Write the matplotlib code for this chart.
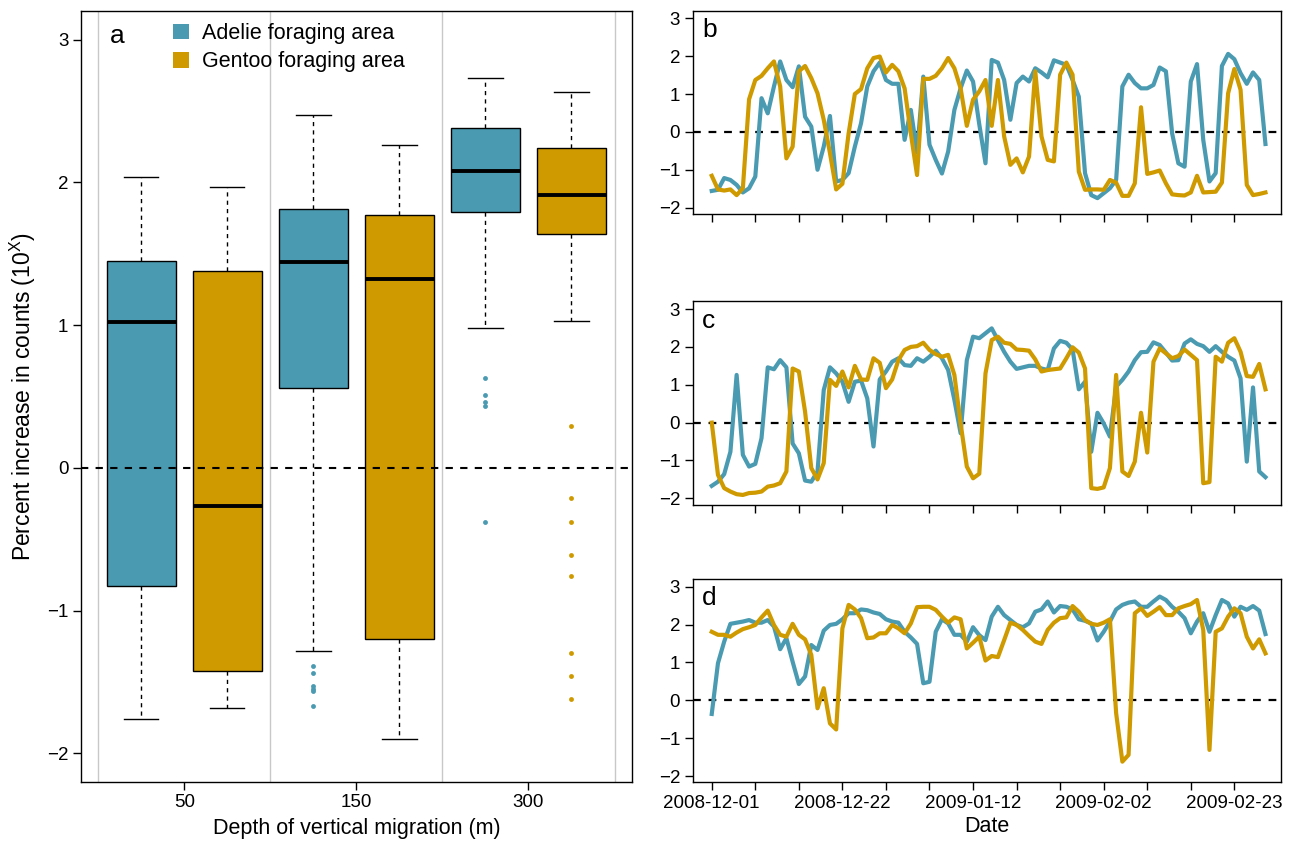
import numpy as np
import pandas as pd
import matplotlib
matplotlib.use('Agg')
import matplotlib.pyplot as plt
import matplotlib.dates as mdates
from matplotlib.patches import Patch

plt.rcParams['font.family'] = ['Liberation Sans', 'DejaVu Sans']

BLUE = '#4A9BB1'
GOLD = '#CF9A00'

# ---------------- panel a: boxplot summary ----------------
depths = ['50', '150', '300']
adelie_q1 = [-0.83, 0.56, 1.79]
adelie_med = [1.02, 1.44, 2.08]
adelie_q3 = [1.45, 1.81, 2.38]
adelie_lo = [-1.76, -1.28, 0.98]
adelie_hi = [2.04, 2.47, 2.73]
adelie_out = [[], [-1.39, -1.44, -1.53, -1.55, -1.56, -1.67], [0.63, 0.51, 0.46, 0.43, -0.38]]

gentoo_q1 = [-1.42, -1.20, 1.64]
gentoo_med = [-0.27, 1.32, 1.91]
gentoo_q3 = [1.38, 1.77, 2.24]
gentoo_lo = [-1.68, -1.90, 1.03]
gentoo_hi = [1.97, 2.26, 2.63]
gentoo_out = [[], [], [0.29, -0.21, -0.38, -0.61, -0.76, -1.30, -1.46, -1.62]]

# ---------------- panels b-d: daily series ----------------
start_date = '2008-12-01'
n_days = 90

b_adelie = [-1.56, -1.53, -1.22, -1.27, -1.4, -1.6, -1.49, -1.18, 0.89, 0.49,
            1.2, 1.86, 1.37, 1.18, 1.73, 0.4, 0.14, -1.0, -0.39, 0.42,
            -1.31, -1.27, -1.09, -0.39, 0.23, 1.2, 1.6, 1.83, 1.37, 1.27,
            1.27, -0.21, 0.58, -0.55, 1.46, -0.34, -0.74, -1.1, -0.52, 0.58,
            1.15, 1.62, 1.33, 0.2, -0.83, 1.9, 1.83, 1.37, 0.32, 1.29,
            1.46, 1.33, 1.68, 1.57, 1.44, 1.89, 1.83, 1.77, 1.37, 0.93,
            -1.09, -1.67, -1.75, -1.62, -1.49, -1.27, 1.2, 1.51, 1.29, 1.15,
            1.15, 1.24, 1.7, 1.6, -0.04, -0.83, -0.92, 1.33, 1.79, -0.21,
            -1.31, -1.09, 1.74, 2.06, 1.92, 1.55, 1.27, 1.57, 1.37, -0.32]
b_gentoo = [-1.16, -1.52, -1.55, -1.52, -1.67, -1.49, 0.86, 1.37, 1.48, 1.68,
            1.86, 1.2, -0.7, -0.39, 1.6, 1.74, 1.42, 1.02, 0.32, -0.56,
            -1.52, -1.37, -0.04, 1.0, 1.13, 1.68, 1.95, 1.99, 1.57, 1.77,
            1.6, 1.15, -0.04, -1.14, 1.4, 1.4, 1.48, 1.68, 1.95, 1.68,
            1.15, 0.16, 0.85, 1.07, 1.37, 0.16, 1.37, -0.12, -0.87, -0.7,
            -1.07, -0.65, 1.6, -0.12, -0.74, -0.78, 1.51, 1.83, 1.51, -1.05,
            -1.53, -1.52, -1.52, -1.53, -1.27, -1.34, -1.69, -1.69, -1.36, 0.65,
            -1.11, -1.07, -1.02, -1.36, -1.65, -1.67, -1.68, -1.6, -1.16, -1.6,
            -1.59, -1.58, -1.34, 1.02, 1.66, 1.11, -1.4, -1.67, -1.64, -1.6]

c_adelie = [-1.67, -1.56, -1.36, -0.77, 1.26, -0.85, -1.16, -1.09, -0.41, 1.46,
            1.41, 1.65, 1.46, -0.55, -0.81, -1.53, -1.56, -1.29, 0.86, 1.46,
            1.3, 1.08, 0.55, 1.08, 1.11, 0.64, -0.63, 1.14, 1.35, 1.61,
            1.7, 1.52, 1.5, 1.7, 1.61, 1.74, 1.9, 1.7, 1.39, 0.6,
            -0.28, 1.65, 2.27, 2.23, 2.36, 2.49, 2.18, 1.87, 1.61, 1.42,
            1.46, 1.5, 1.5, 1.43, 1.39, 1.96, 2.16, 2.11, 1.93, 0.88,
            1.08, -0.77, 0.26, -0.02, -0.37, 0.95, 1.13, 1.35, 1.65, 1.86,
            1.87, 2.12, 2.05, 1.85, 1.64, 1.65, 2.09, 2.2, 2.08, 2.02,
            1.87, 2.02, 1.87, 1.74, 1.64, 1.17, -1.03, 0.93, -1.29, -1.44]
c_gentoo = [0.0, -1.38, -1.73, -1.82, -1.89, -1.91, -1.86, -1.85, -1.82, -1.69,
            -1.66, -1.6, -1.29, 1.43, 1.35, 0.29, -1.2, -1.5, -1.07, 1.13,
            0.97, 1.35, 0.93, 1.5, 1.14, 1.13, 1.7, 1.58, 0.91, 1.14,
            1.65, 1.92, 2.0, 2.02, 2.11, 1.92, 1.81, 1.74, 1.79, 1.26,
            -0.02, -1.16, -1.47, -1.35, 1.3, 2.18, 2.27, 2.11, 2.08, 1.93,
            1.92, 1.9, 1.67, 1.35, 1.39, 1.41, 1.43, 1.7, 1.99, 1.85,
            1.43, -1.73, -1.75, -1.71, -1.2, 1.26, -1.29, -1.41, -1.03, 0.26,
            -0.79, 1.61, 1.96, 1.83, 1.7, 1.76, 1.93, 1.79, 1.65, -1.6,
            -1.57, 1.74, 1.61, 2.11, 2.23, 1.87, 1.23, 1.21, 1.55, 0.88]

d_adelie = [-0.36, 0.98, 1.55, 2.02, 2.05, 2.08, 2.12, 2.05, 2.05, 2.12,
            1.95, 1.35, 1.64, 1.02, 0.43, 0.63, 1.46, 1.33, 1.84, 1.99,
            2.02, 2.14, 2.3, 2.3, 2.4, 2.38, 2.32, 2.28, 2.14, 2.08,
            2.05, 1.81, 1.66, 1.49, 0.45, 0.49, 1.81, 2.14, 2.03, 1.73,
            1.73, 1.55, 1.93, 1.72, 1.59, 2.21, 2.47, 2.25, 2.12, 1.99,
            1.93, 2.03, 2.34, 2.4, 2.61, 2.32, 2.49, 2.47, 2.4, 2.14,
            2.1, 2.03, 1.58, 1.81, 2.08, 2.4, 2.52, 2.58, 2.61, 2.47,
            2.47, 2.61, 2.74, 2.65, 2.47, 2.34, 2.17, 1.77, 2.08, 2.3,
            1.81, 2.25, 2.65, 2.56, 2.21, 2.47, 2.39, 2.49, 2.37, 1.75]
d_gentoo = [1.81, 1.73, 1.73, 1.68, 1.79, 1.88, 1.93, 1.99, 2.19, 2.37,
            1.99, 1.73, 1.68, 2.02, 1.73, 1.61, 1.2, -0.21, 0.32, -0.61,
            -0.77, 1.9, 2.52, 2.4, 2.17, 1.64, 1.66, 1.77, 1.77, 1.99,
            1.9, 1.77, 2.03, 2.46, 2.47, 2.47, 2.39, 2.21, 2.05, 2.19,
            2.14, 1.37, 1.52, 1.68, 1.05, 1.17, 1.14, 1.59, 2.05, 1.99,
            1.86, 1.7, 1.55, 1.49, 1.86, 2.05, 2.17, 2.19, 2.49, 2.34,
            2.12, 2.02, 1.99, 2.05, 2.14, -0.34, -1.62, -1.44, 2.3, 2.43,
            2.23, 2.34, 2.46, 2.25, 2.25, 2.43, 2.49, 2.54, 2.65, 1.86,
            -1.31, 1.81, 1.9, 2.21, 2.43, 2.3, 1.68, 1.37, 1.61, 1.24]

date_tick_labels = ['2008-12-01', '2008-12-22', '2009-01-12', '2009-02-02', '2009-02-23']

# ---------------- figure ----------------
fig = plt.figure(figsize=(12.89, 8.44), dpi=100)
TICK_FS = 13.5
LABEL_FS = 15.5

def style_axis(ax):
    for s in ax.spines.values():
        s.set_linewidth(1.0)
        s.set_color('black')
    ax.tick_params(direction='out', length=5.5, width=1.0, labelsize=TICK_FS, colors='black')

# panel a
axa = fig.add_axes([0.0628, 0.0735, 0.4273, 0.9135])
for xv in [-0.5, 0.5, 1.5, 2.5]:
    axa.axvline(xv, color='#c8c8c8', lw=1.0, zorder=0)

def make_stats(q1, med, q3, lo, hi, out):
    return [dict(q1=q1[i], med=med[i], q3=q3[i], whislo=lo[i], whishi=hi[i], fliers=out[i])
            for i in range(len(q1))]

common = dict(widths=0.4, patch_artist=True, showfliers=True,
              whiskerprops=dict(color='black', lw=1.0, linestyle=(0, (3, 3))),
              capprops=dict(color='black', lw=1.0),
              medianprops=dict(color='black', lw=2.8))
pos = np.arange(len(depths))
axa.bxp(make_stats(adelie_q1, adelie_med, adelie_q3, adelie_lo, adelie_hi, adelie_out),
        positions=pos - 0.25,
        boxprops=dict(facecolor=BLUE, edgecolor='black', lw=1.0),
        flierprops=dict(marker='o', markersize=3.5, markerfacecolor=BLUE, markeredgecolor='none'),
        **common)
axa.bxp(make_stats(gentoo_q1, gentoo_med, gentoo_q3, gentoo_lo, gentoo_hi, gentoo_out),
        positions=pos + 0.25,
        boxprops=dict(facecolor=GOLD, edgecolor='black', lw=1.0),
        flierprops=dict(marker='o', markersize=3.5, markerfacecolor=GOLD, markeredgecolor='none'),
        **common)
axa.axhline(0, color='black', lw=1.5, dashes=(3.5, 3.5), zorder=5)
axa.set_xlim(-0.6, 2.6)
axa.set_ylim(-2.2, 3.2)
axa.set_xticks(pos)
axa.set_xticklabels(depths)
axa.set_yticks([-2, -1, 0, 1, 2, 3])
axa.set_yticklabels(['\u22122', '\u22121', '0', '1', '2', '3'])
style_axis(axa)
axa.set_xlabel('Depth of vertical migration (m)', fontsize=LABEL_FS, labelpad=5)
axa.set_ylabel(r'Percent increase in counts (10$^{\mathregular{X}}$)', fontsize=16.5, labelpad=3)
axa.yaxis.set_label_coords(-0.078, 0.5)
axa.text(0.052, 0.968, 'a', transform=axa.transAxes, fontsize=19, ha='left', va='center')
handles = [Patch(facecolor=BLUE, edgecolor='none', label='Adelie foraging area'),
           Patch(facecolor=GOLD, edgecolor='none', label='Gentoo foraging area')]
axa.legend(handles=handles, loc='upper left', bbox_to_anchor=(0.14, 1.004), frameon=False,
           fontsize=15.5, handlelength=0.72, handleheight=0.72, handletextpad=0.6,
           labelspacing=0.35, borderaxespad=0.3)

# panels b-d
dates = pd.date_range(start_date, periods=n_days, freq='D')
t0 = mdates.date2num(pd.Timestamp(start_date))
week_ticks = [t0 + 7 * k for k in range(13)]
label_ticks = [mdates.date2num(pd.Timestamp(s)) for s in date_tick_labels]

panels = [('b', b_adelie, b_gentoo, 0.7464),
          ('c', c_adelie, c_gentoo, 0.4019),
          ('d', d_adelie, d_gentoo, 0.0729)]
for letter, ad, ge, bottom in panels:
    ax = fig.add_axes([0.5374, bottom, 0.4564, 0.2409])
    ax.axhline(0, color='black', lw=1.6, dashes=(3.5, 3.5), zorder=1)
    ax.plot(dates, ad, color=BLUE, lw=3.0, zorder=2, solid_joinstyle='round')
    ax.plot(dates, ge, color=GOLD, lw=3.0, zorder=3, solid_joinstyle='round')
    ax.set_xlim(t0 - 3.06, t0 + 91.5)
    ax.set_ylim(-2.17, 3.2)
    ax.set_yticks([-2, -1, 0, 1, 2, 3])
    ax.set_yticklabels(['\u22122', '\u22121', '0', '1', '2', '3'])
    ax.set_xticks(week_ticks)
    if letter == 'd':
        ax.set_xticklabels([date_tick_labels[label_ticks.index(t)] if t in label_ticks else ''
                            for t in week_ticks])
        ax.set_xlabel('Date', fontsize=LABEL_FS, labelpad=3)
    else:
        ax.set_xticklabels([])
    style_axis(ax)
    ax.text(0.016, 0.905, letter, transform=ax.transAxes, fontsize=19, ha='left', va='center')

fig.savefig('out.png', dpi=100)
